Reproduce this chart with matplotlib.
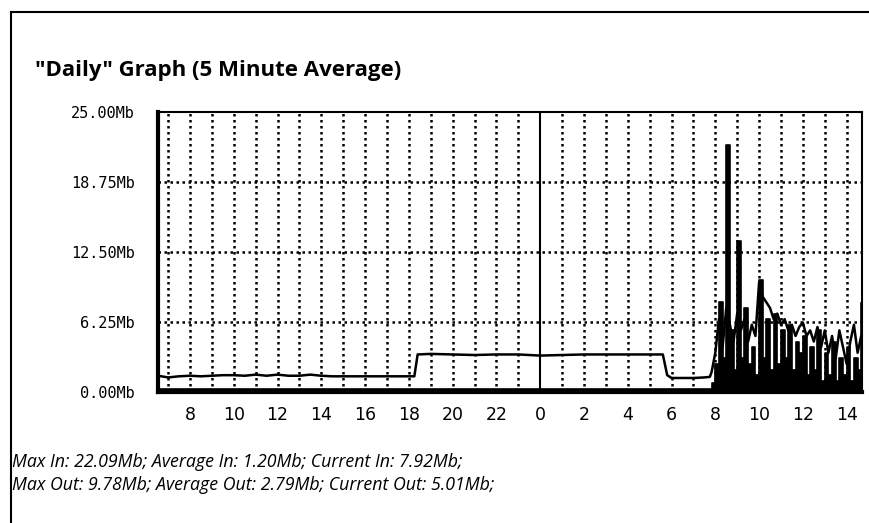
import numpy as np
import matplotlib
matplotlib.use('Agg')
import matplotlib.pyplot as plt
from matplotlib.lines import Line2D

# hours since midnight of day 1 (values past 24 are the next day)
x_start, x_end = 6.54, 38.7

# quiet part of the "Out" line
out_quiet_t = [6.54, 7.0, 7.5, 8.0, 8.5, 9.0, 9.5, 10.0, 10.5, 11.0, 11.5, 12.0, 12.5,
               13.0, 13.5, 14.0, 14.5, 15.0, 16.0, 17.0, 18.0, 18.25, 18.4, 19.0, 20.0,
               21.0, 22.0, 23.0, 24.0, 25.0, 26.0, 27.0, 28.0, 29.0, 29.6, 29.8, 30.0,
               30.5, 31.0, 31.5, 31.75]
out_quiet_v = [1.45, 1.30, 1.40, 1.45, 1.40, 1.45, 1.50, 1.50, 1.45, 1.55, 1.45, 1.55, 1.45,
               1.45, 1.55, 1.45, 1.40, 1.40, 1.40, 1.40, 1.40, 1.40, 3.35, 3.40, 3.35,
               3.30, 3.35, 3.35, 3.25, 3.30, 3.35, 3.35, 3.35, 3.35, 3.35, 1.50, 1.25,
               1.25, 1.25, 1.30, 1.35]

# busy part, 10 minute samples from 7:50 to 14:40 (next day)
busy_t0 = 31.83
busy_in = [0.8, 2.5, 8.0, 3.0, 22.09, 5.5, 2.0, 13.5, 3.0, 7.5, 2.5, 4.0, 1.5, 10.0,
           3.0, 6.5, 2.0, 7.0, 2.5, 5.5, 3.0, 6.0, 2.0, 4.5, 3.5, 5.0, 1.5, 4.0,
           2.0, 5.5, 1.0, 3.5, 1.5, 4.5, 1.0, 3.0, 1.5, 4.0, 1.0, 3.0, 2.0, 7.92]
busy_out = [1.8, 3.5, 6.5, 4.0, 7.5, 6.0, 4.5, 7.0, 5.5, 6.5, 4.5, 6.0, 5.0, 9.78,
            8.5, 8.0, 7.5, 6.5, 7.0, 6.0, 6.5, 5.5, 6.0, 5.0, 5.8, 6.2, 5.0, 5.5,
            4.5, 5.8, 4.0, 5.5, 3.5, 5.0, 3.0, 5.5, 4.0, 2.5, 4.5, 6.0, 3.5, 5.01]
in_quiet_level = 0.25

y_ticks = [0.0, 6.25, 12.50, 18.75, 25.00]
y_labels = ['0.00Mb', '6.25Mb', '12.50Mb', '18.75Mb', '25.00Mb']
x_ticks = list(range(8, 39, 2))
x_labels = [str(h % 24) for h in x_ticks]

title = '"Daily" Graph (5 Minute Average)'
stats = ['Max In: 22.09Mb; Average In: 1.20Mb; Current In: 7.92Mb;',
         'Max Out: 9.78Mb; Average Out: 2.79Mb; Current Out: 5.01Mb;']

busy_t = [busy_t0 + i / 6 for i in range(len(busy_in))]

fig = plt.figure(figsize=(8.69, 5.23), dpi=100)
ax = fig.add_axes([0.1818, 0.2505, 0.8102, 0.5355])

# grid first, underneath the data
for h in range(7, 39):
    if h == 24:
        ax.axvline(h, color='black', lw=1.5, zorder=1)
    else:
        ax.axvline(h, color='black', lw=1.8, ls=(0, (1, 1.4)), zorder=1)
for v in y_ticks[1:-1]:
    ax.axhline(v, color='black', lw=1.8, ls=(0, (1, 1.4)), zorder=1)

# In traffic: solid fill
in_t = [x_start, busy_t0] + busy_t
in_v = [in_quiet_level, in_quiet_level] + busy_in
ax.fill_between(in_t, 0, in_v, step='post', color='black', lw=0, zorder=2)
ax.step(in_t, in_v, where='post', color='black', lw=1.2, zorder=2)

# Out traffic: line
out_t = out_quiet_t + busy_t
out_v = out_quiet_v + busy_out
ax.plot(out_t, out_v, color='black', lw=1.8, zorder=3)

ax.set_xlim(x_start, x_end)
ax.set_ylim(0, 25)
ax.set_xticks(x_ticks)
ax.set_xticklabels(x_labels, fontsize=12.5)
ax.set_yticks(y_ticks)
ax.set_yticklabels(y_labels, fontsize=11, family='DejaVu Sans Mono')
ax.tick_params(length=0)
ax.tick_params(axis='y', pad=16.5)
ax.tick_params(axis='x', pad=10)
for s in ['top', 'right']:
    ax.spines[s].set_linewidth(1.5)
for s in ['left', 'bottom']:
    ax.spines[s].set_linewidth(3)

fig.text(0.040, 0.866, title, fontsize=16, fontweight='bold',
         family='Open Sans', va='center', ha='left')
fig.text(0.014, 0.117, stats[0], fontsize=12.8, style='italic',
         family='Open Sans', va='center', ha='left')
fig.text(0.014, 0.073, stats[1], fontsize=12.8, style='italic',
         family='Open Sans', va='center', ha='left')

# outer box edges visible in the reference
fig.add_artist(Line2D([0.013, 1.0], [0.977, 0.977], color='black', lw=1.5))
fig.add_artist(Line2D([0.013, 0.013], [0.0, 0.977], color='black', lw=1.5))

fig.savefig('out.png', dpi=100)
